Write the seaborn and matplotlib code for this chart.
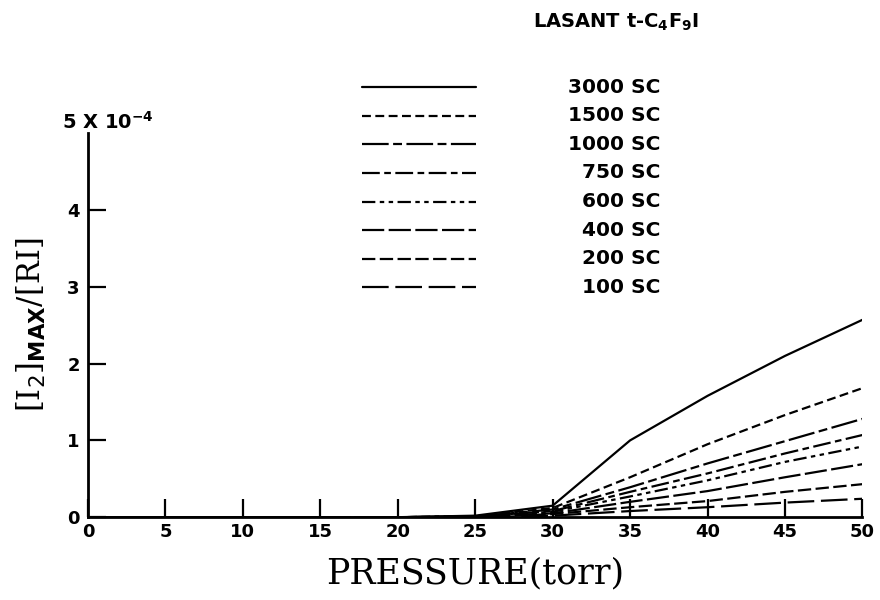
import matplotlib
matplotlib.use("Agg")
import matplotlib.pyplot as plt
import seaborn as sns
import pandas as pd

pressure = [0, 5, 10, 15, 20, 25, 30, 35, 40, 45, 50]
labels = ["3000 SC", "1500 SC", "1000 SC", "750 SC", "600 SC", "400 SC", "200 SC", "100 SC"]
s3000 = [0, 0, 0, 0, 0, 0.02, 0.15, 1.00, 1.58, 2.10, 2.57]
s1500 = [0, 0, 0, 0, 0, 0.01, 0.12, 0.52, 0.95, 1.33, 1.68]
s1000 = [0, 0, 0, 0, 0, 0.01, 0.10, 0.39, 0.70, 0.99, 1.28]
s750 = [0, 0, 0, 0, 0, 0.01, 0.08, 0.33, 0.57, 0.83, 1.07]
s600 = [0, 0, 0, 0, 0, 0.01, 0.07, 0.27, 0.48, 0.72, 0.92]
s400 = [0, 0, 0, 0, 0, 0.01, 0.05, 0.20, 0.34, 0.52, 0.69]
s200 = [0, 0, 0, 0, 0, 0.00, 0.04, 0.13, 0.21, 0.33, 0.43]
s100 = [0, 0, 0, 0, 0, 0.00, 0.02, 0.08, 0.13, 0.19, 0.24]
series = [s3000, s1500, s1000, s750, s600, s400, s200, s100]
xticks = [0, 5, 10, 15, 20, 25, 30, 35, 40, 45, 50]
yticks = [0, 1, 2, 3, 4]

styles = ["-", (0, (4, 2)), (0, (12, 2, 4, 2)), (0, (8, 2, 3, 2)),
          (0, (6, 2, 2, 2, 2, 2)), (0, (10, 2)), (0, (6, 2)), (0, (12, 3))]

sns.set_theme(style="ticks")
plt.rcParams['font.family'] = ['DejaVu Sans']
plt.rcParams['text.color'] = 'black'
plt.rcParams['axes.labelcolor'] = 'black'
plt.rcParams['xtick.color'] = 'black'
plt.rcParams['ytick.color'] = 'black'

fig = plt.figure(figsize=(8.8, 6.0), dpi=100)
ax = fig.add_axes([0.1, 0.138, 0.88, 0.64])

for lab, vals, ls in zip(labels, series, styles):
    df = pd.DataFrame({"p": pressure, "v": vals})
    sns.lineplot(data=df, x="p", y="v", ax=ax, color="black", linewidth=1.6,
                 linestyle=ls, legend=False)

ax.set_xlim(0, 50)
ax.set_ylim(0, 5)
ax.set_xticks(xticks)
ax.set_xticklabels([str(t) for t in xticks], fontweight="bold", fontsize=13)
ax.set_yticks(yticks)
ax.set_yticklabels([str(t) for t in yticks], fontweight="bold", fontsize=13)
ax.tick_params(axis="both", direction="in", length=13, width=1.6, color="black", pad=6)
ax.tick_params(axis="x", pad=4)
sns.despine(ax=ax)
for sp in ["left", "bottom"]:
    ax.spines[sp].set_linewidth(2)
    ax.spines[sp].set_color("black")

ax.set_xlabel("PRESSURE(torr)", family="DejaVu Serif", fontsize=25, labelpad=11)
ax.set_ylabel(r"[I$_2$]$_{\mathbf{MAX}}$/[RI]", family="DejaVu Serif",
              fontsize=22, labelpad=14)

ax.text(-0.033, 1.0, r"5 X 10$^{\mathbf{-4}}$", transform=ax.transAxes, ha="left",
        va="bottom", fontsize=14, fontweight="bold")

# legend block
y0 = 1.12
dy = 0.0745
for i, (lab, ls) in enumerate(zip(labels, styles)):
    yy = y0 - i * dy
    ax.plot([0.354, 0.501], [yy, yy], transform=ax.transAxes, color="black",
            linewidth=1.6, linestyle=ls, clip_on=False)
    ax.text(0.739, yy, lab, transform=ax.transAxes, ha="right", va="center",
            fontsize=14.5, fontweight="bold")

ax.text(0.682, 1.288, r"LASANT t-C$_\mathbf{4}$F$_\mathbf{9}$I", transform=ax.transAxes,
        ha="center", va="center", fontsize=14, fontweight="bold")

fig.savefig("out.png", dpi=100)
